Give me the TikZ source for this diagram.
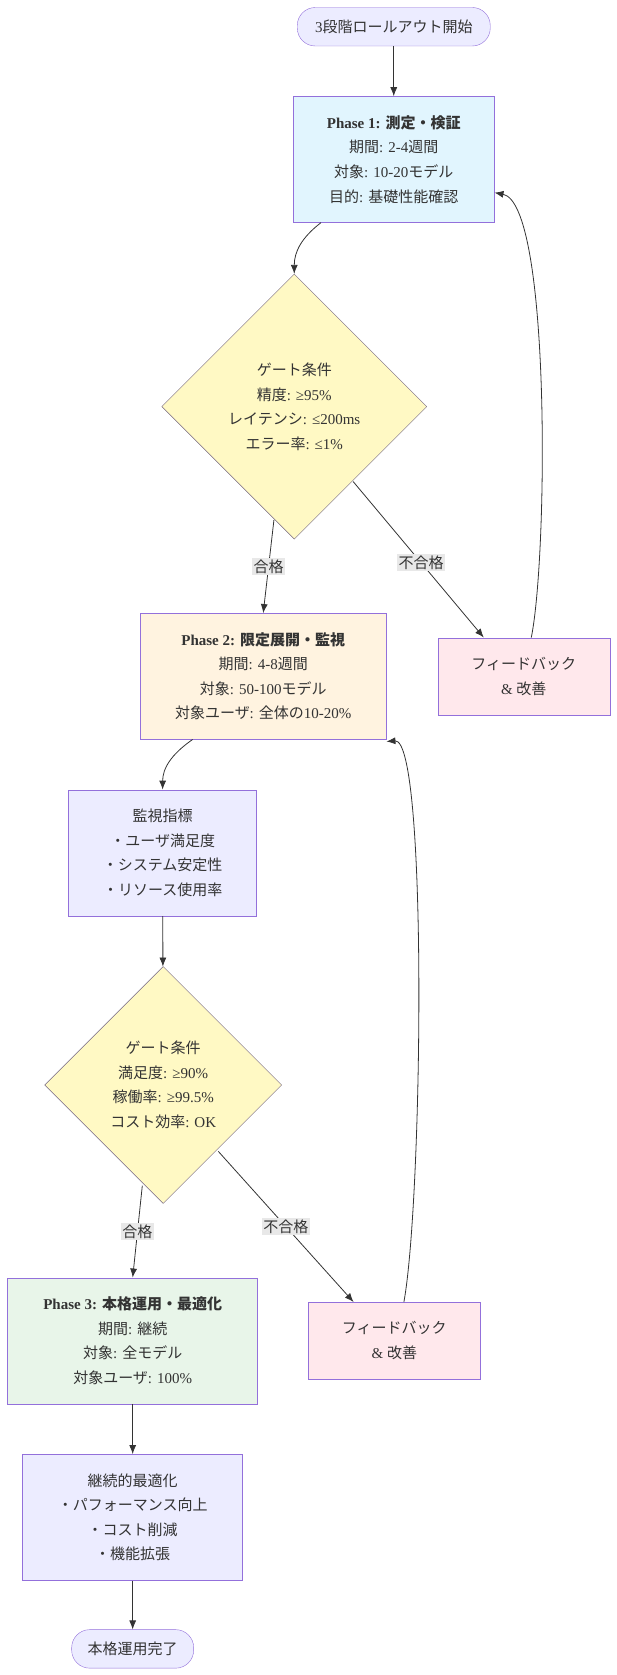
\documentclass[tikz,border=0pt]{standalone}
\usepackage{fontspec}
\setmainfont{Liberation Serif}
\newfontfamily\cjk{Noto Sans CJK JP}
\newcommand{\jp}[1]{{\cjk #1}}
\usetikzlibrary{shapes.geometric,arrows.meta}
\definecolor{edge}{HTML}{9370DB}
\definecolor{line}{HTML}{333333}
\definecolor{lav}{HTML}{ECECFF}
\definecolor{pale}{HTML}{E8F5E9}
\definecolor{sky}{HTML}{E1F5FE}
\definecolor{peach}{HTML}{FFF3E0}
\definecolor{rose}{HTML}{FFE8EC}
\definecolor{lemon}{HTML}{FFF9C4}
\tikzset{
    box/.style={draw=edge, fill=#1, align=center, inner sep=0pt},
    box/.default={lav},
    gate/.style={draw=edge!60!lemon!60!black, fill=lemon, diamond, align=center, inner sep=0pt,
        minimum width=#1, minimum height=#1},
    term/.style={draw=edge, fill=lav, rounded corners=18pt, minimum height=38.5pt, inner sep=0pt},
    flow/.style={draw=line, line width=0.8pt, -{Latex[length=9pt,width=7pt]}},
    lbl/.style={fill=black!9, inner sep=1.5pt, font=\fontsize{15}{18}\selectfont}
}
\begin{document}
\begin{tikzpicture}[x=1.07pt, y=-1.07pt, font=\fontsize{15}{24.6}\selectfont, text=line]
    \useasboundingbox (0,0) rectangle (576.6,1565.4);

    % Knoten
    \node[term, minimum width=193pt] (start) at (368,25) {3\jp{段階ロールアウト開始}};
    \node[box=sky, minimum width=201pt, minimum height=126pt] (p1) at (368,149)
        {\textbf{Phase 1: \jp{測定・検証}}\\\jp{期間}: 2-4\jp{週間}\\\jp{対象}: 10-20\jp{モデル}\\\jp{目的}: \jp{基礎性能確認}};
    \node[gate=265pt] (g1) at (275,380)
        {\jp{ゲート条件}\\\jp{精度}: ≥95\%\\\jp{レイテンシ}: ≤200ms\\\jp{エラー率}: ≤1\%};
    \node[box=rose, minimum width=172pt, minimum height=77pt] (f1) at (489.5,632)
        {\jp{フィードバック}\\\& \jp{改善}};
    \node[box=peach, minimum width=246pt, minimum height=126pt] (p2) at (246,632)
        {\textbf{Phase 2: \jp{限定展開・監視}}\\\jp{期間}: 4-8\jp{週間}\\\jp{対象}: 50-100\jp{モデル}\\\jp{対象ユーザ}: \jp{全体の}10-20\%};
    \node[box, minimum width=188pt, minimum height=126pt] (mon) at (152,797)
        {\jp{監視指標}\\\jp{・ユーザ満足度}\\\jp{・システム安定性}\\\jp{・リソース使用率}};
    \node[gate=237pt] (g2) at (152.5,1014)
        {\jp{ゲート条件}\\\jp{満足度}: ≥90\%\\\jp{稼働率}: ≥99.5\%\\\jp{コスト効率}: OK};
    \node[box=rose, minimum width=172pt, minimum height=77pt] (f2) at (368.5,1253)
        {\jp{フィードバック}\\\& \jp{改善}};
    \node[box=pale, minimum width=250pt, minimum height=126pt] (p3) at (124,1253)
        {\textbf{Phase 3: \jp{本格運用・最適化}}\\\jp{期間}: \jp{継続}\\\jp{対象}: \jp{全モデル}\\\jp{対象ユーザ}: 100\%};
    \node[box, minimum width=220pt, minimum height=126pt] (opt) at (124,1418)
        {\jp{継続的最適化}\\\jp{・パフォーマンス向上}\\\jp{・コスト削減}\\\jp{・機能拡張}};
    \node[term, minimum width=122pt] (done) at (124,1541) {\jp{本格運用完了}};

    % Verbindungen
    \draw[flow] (start) -- (p1);
    \draw[flow] ([xshift=-72.8pt]p1.south) .. controls (282,222) and (275,235) .. (g1.north);
    \draw[flow] (256,486) -- node[lbl] {\jp{合格}} (p2.north);
    \draw[flow] (330,450) -- node[lbl, pos=0.52] {\jp{不合格}} ([xshift=-40pt]f1.north);
    \draw[flow] ([xshift=7.5pt]f1.north) .. controls (512,520) and (515,190) .. ([yshift=30pt]p1.south east);
    \draw[flow] ([xshift=9.6pt]f2.north) .. controls (395,1120) and (400,690) .. ([yshift=-2pt]p2.south east);
    \draw[flow] ([xshift=-70.6pt]p2.south) .. controls (160,705) and (152,718) .. (mon.north);
    \draw[flow] (mon) -- (g2);
    \draw[flow] (133,1108) -- node[lbl] {\jp{合格}} (p3.north);
    \draw[flow] (204,1076) -- node[lbl, pos=0.5] {\jp{不合格}} ([xshift=-40.7pt]f2.north);
    \draw[flow] (p3) -- (opt);
    \draw[flow] (opt) -- (done);
\end{tikzpicture}
\end{document}
